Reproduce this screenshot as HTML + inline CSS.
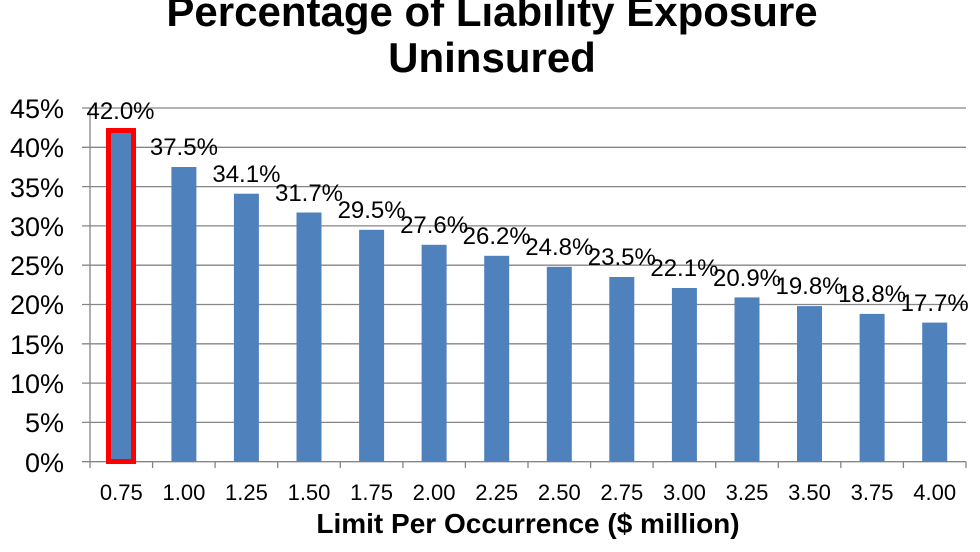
<!DOCTYPE html>
<html><head><style>body{margin:0;background:#fff}svg{display:block}</style></head><body>
<svg width="980" height="552" xmlns="http://www.w3.org/2000/svg" font-family="Liberation Sans, Arial, sans-serif">
<text x="492" y="26" font-size="42" font-weight="bold" text-anchor="middle">Percentage of Liability Exposure</text>
<text x="492" y="72" font-size="42" font-weight="bold" text-anchor="middle">Uninsured</text>
<g stroke="#868686" stroke-width="1.3">
<line x1="82" y1="108" x2="966" y2="108"/><line x1="82" y1="147.3" x2="966" y2="147.3"/><line x1="82" y1="186.6" x2="966" y2="186.6"/><line x1="82" y1="225.9" x2="966" y2="225.9"/><line x1="82" y1="265.2" x2="966" y2="265.2"/><line x1="82" y1="304.5" x2="966" y2="304.5"/><line x1="82" y1="343.8" x2="966" y2="343.8"/><line x1="82" y1="383.1" x2="966" y2="383.1"/><line x1="82" y1="422.4" x2="966" y2="422.4"/><line x1="82" y1="461.7" x2="966" y2="461.7"/>
<line x1="90" y1="108" x2="90" y2="468"/>
<line x1="152.6" y1="461.7" x2="152.6" y2="468"/><line x1="215.1" y1="461.7" x2="215.1" y2="468"/><line x1="277.7" y1="461.7" x2="277.7" y2="468"/><line x1="340.3" y1="461.7" x2="340.3" y2="468"/><line x1="402.9" y1="461.7" x2="402.9" y2="468"/><line x1="465.4" y1="461.7" x2="465.4" y2="468"/><line x1="528" y1="461.7" x2="528" y2="468"/><line x1="590.6" y1="461.7" x2="590.6" y2="468"/><line x1="653.1" y1="461.7" x2="653.1" y2="468"/><line x1="715.7" y1="461.7" x2="715.7" y2="468"/><line x1="778.3" y1="461.7" x2="778.3" y2="468"/><line x1="840.8" y1="461.7" x2="840.8" y2="468"/><line x1="903.4" y1="461.7" x2="903.4" y2="468"/><line x1="966" y1="461.7" x2="966" y2="468"/>
</g>
<g font-size="27" text-anchor="end" fill="#000">
<text x="64" y="118">45%</text><text x="64" y="157">40%</text><text x="64" y="197">35%</text><text x="64" y="236">30%</text><text x="64" y="275">25%</text><text x="64" y="314">20%</text><text x="64" y="354">15%</text><text x="64" y="393">10%</text><text x="64" y="432">5%</text><text x="64" y="472">0%</text>
</g>
<g fill="#4f81bd">
<rect x="108.8" y="131.6" width="25" height="330.1"/>
<rect x="171.4" y="167" width="25" height="294.7"/>
<rect x="233.9" y="193.7" width="25" height="268"/>
<rect x="296.5" y="212.5" width="25" height="249.2"/>
<rect x="359.1" y="229.8" width="25" height="231.9"/>
<rect x="421.6" y="244.8" width="25" height="216.9"/>
<rect x="484.2" y="255.8" width="25" height="205.9"/>
<rect x="546.8" y="266.8" width="25" height="194.9"/>
<rect x="609.3" y="277" width="25" height="184.7"/>
<rect x="671.9" y="288" width="25" height="173.7"/>
<rect x="734.5" y="297.4" width="25" height="164.3"/>
<rect x="797" y="306.1" width="25" height="155.6"/>
<rect x="859.6" y="313.9" width="25" height="147.8"/>
<rect x="922.2" y="322.6" width="25" height="139.1"/>
</g>
<rect x="108.5" y="130.5" width="25" height="331" fill="none" stroke="#ff0000" stroke-width="5"/>
<g font-size="24" text-anchor="middle" fill="#000">
<text x="120.5" y="119">42.0%</text>
<text x="183.9" y="155">37.5%</text>
<text x="246.4" y="182">34.1%</text>
<text x="309" y="201">31.7%</text>
<text x="371.6" y="218">29.5%</text>
<text x="434.1" y="233">27.6%</text>
<text x="496.7" y="244">26.2%</text>
<text x="559.3" y="255">24.8%</text>
<text x="621.8" y="265">23.5%</text>
<text x="684.4" y="276">22.1%</text>
<text x="747" y="286">20.9%</text>
<text x="809.5" y="294">19.8%</text>
<text x="872.1" y="302">18.8%</text>
<text x="934.7" y="311">17.7%</text>
</g>
<g font-size="22" text-anchor="middle" fill="#000">
<text x="121.3" y="500">0.75</text><text x="183.9" y="500">1.00</text><text x="246.4" y="500">1.25</text><text x="309" y="500">1.50</text><text x="371.6" y="500">1.75</text><text x="434.1" y="500">2.00</text><text x="496.7" y="500">2.25</text><text x="559.3" y="500">2.50</text><text x="621.8" y="500">2.75</text><text x="684.4" y="500">3.00</text><text x="747" y="500">3.25</text><text x="809.5" y="500">3.50</text><text x="872.1" y="500">3.75</text><text x="934.7" y="500">4.00</text>
</g>
<text x="528" y="533" font-size="28" font-weight="bold" text-anchor="middle">Limit Per Occurrence ($ million)</text>
</svg>
</body></html>
